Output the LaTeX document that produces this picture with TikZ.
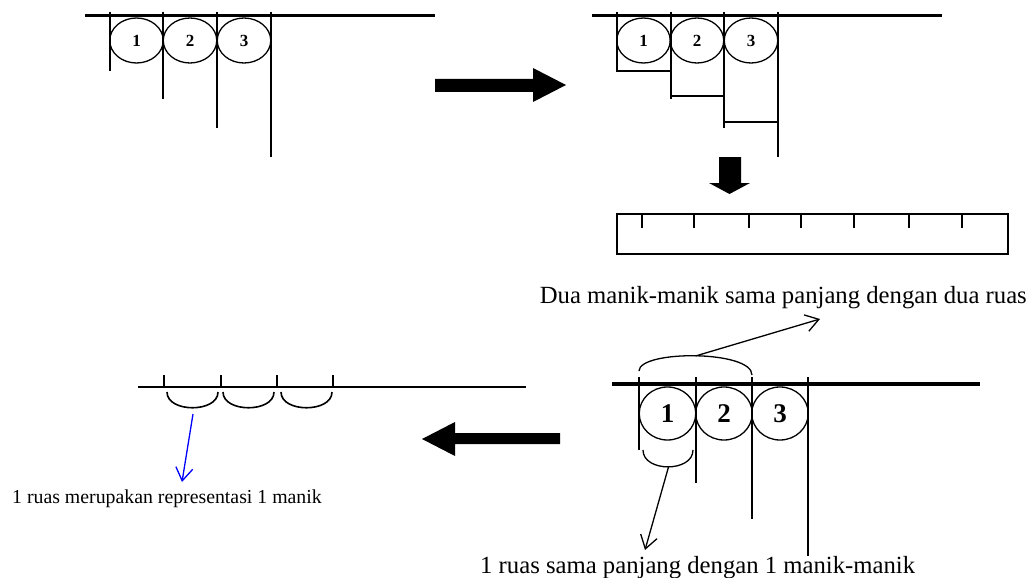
\documentclass[tikz,border=0pt]{standalone}
\usepackage{fontspec}
\setmainfont{Liberation Serif}
\usetikzlibrary{arrows.meta,shapes.geometric}

\begin{document}
\begin{tikzpicture}[x=1pt,y=-1pt,
  bar/.style={line width=3pt},
  rod/.style={line width=1.3pt},
  bead/.style={ellipse,draw,line width=1.3pt,inner sep=0pt,
    minimum width=53.5pt,minimum height=45pt,
    font=\bfseries\fontsize{17}{17}\selectfont},
  bigbead/.style={ellipse,draw,line width=1.3pt,inner sep=0pt,
    minimum width=56.5pt,minimum height=53pt,
    font=\bfseries\fontsize{27}{27}\selectfont},
  lbl/.style={inner sep=0pt,font=\fontsize{24.7}{28}\selectfont},
  bluelbl/.style={inner sep=0pt,font=\fontsize{19.8}{23}\selectfont},
  pointer/.style={line width=1.3pt,-{Straight Barb[length=13pt,width=17pt,line width=1.3pt]}},
  blockarrow/.style={fill=black}
]
\useasboundingbox (0,0) rectangle (1029,578);

% ---------- beads on the string ----------
\draw[bar] (85,16) -- (435,16);
\draw[rod] (110,12) -- (110,71);
\draw[rod] (163,12) -- (163,99);
\draw[rod] (217,12) -- (217,128);
\draw[rod] (271,12) -- (271,157);
\node[bead] (a1) at (136.5,40.5) {\raisebox{-3pt}{1}};
\node[bead] (a2) at (190,40.5) {\raisebox{-3pt}{2}};
\node[bead] (a3) at (244,40.5) {\raisebox{-3pt}{3}};

% ---------- block arrow: right ----------
\fill[blockarrow] (435,79) -- (533,79) -- (533,68) -- (566,85) -- (533,102)
  -- (533,92) -- (435,92) -- cycle;

% ---------- beads with their segments marked ----------
\draw[bar] (592,16) -- (942,16);
\draw[rod] (617,12) -- (617,71) -- (671,71);
\draw[rod] (671,12) -- (671,99);
\draw[rod] (671,96) -- (724,96);
\draw[rod] (724,12) -- (724,128);
\draw[rod] (724,122) -- (778,122);
\draw[rod] (778,12) -- (778,157);
\node[bead] (b1) at (643.5,40.5) {\raisebox{-3pt}{1}};
\node[bead] (b2) at (697,40.5) {\raisebox{-3pt}{2}};
\node[bead] (b3) at (751,40.5) {\raisebox{-3pt}{3}};

% ---------- block arrow: down ----------
\fill[blockarrow] (719,157) -- (741,157) -- (741,183) -- (750,183) -- (729.5,194)
  -- (709,183) -- (719,183) -- cycle;

% ---------- ruler ----------
\draw[line width=1.5pt] (617,214) rectangle (1008,254);
\foreach \t in {642,694,749,801,854,909,962}
  \draw[line width=1.5pt] (\t,214) -- (\t,228);

\node[lbl,anchor=base east] (dua) at (1027,303)
  {Dua manik-manik sama panjang dengan dua ruas};

% ---------- beads compared with segments ----------
\draw[line width=3.5pt] (612,384) -- (980,384);
\draw[rod] (639,377) -- (639,450);
\draw[rod] (696,377) -- (696,483);
\draw[rod] (752,377) -- (752,519);
\draw[rod] (808,377) -- (808,556);
\node[bigbead] (c1) at (667.5,413.5) {1};
\node[bigbead] (c2) at (724,413.5) {2};
\node[bigbead] (c3) at (780,413.5) {3};

% brace over two beads
\draw[rod] (639,371) .. controls (639,350) and (752,350) .. (752,375);
\coordinate (twotop) at (695.5,356);
\coordinate (twotip) at (820,319);
\draw[pointer] (twotop) -- (twotip);

% brace under one bead
\draw[rod] (643,450) .. controls (643,472.5) and (693,472.5) .. (693,450);
\coordinate (onebot) at (668.5,467);
\coordinate (onetip) at (645,550);
\draw[pointer] (onebot) -- (onetip);

\node[lbl,anchor=base west] (satu) at (480,573)
  {1 ruas sama panjang dengan 1 manik-manik};

% ---------- block arrow: left ----------
\fill[blockarrow] (560,433) -- (455,433) -- (455,422) -- (422,439) -- (455,456)
  -- (455,444) -- (560,444) -- cycle;

% ---------- segments on the number line ----------
\draw[line width=1.6pt] (138,387) -- (526,387);
\foreach \t in {164,221,277,333}
  \draw[line width=1.6pt] (\t,375) -- (\t,387);
\foreach \c in {192.5,248.5,306.5}
  \draw[line width=1.6pt] (\c-25.5,392) .. controls (\c-25.5,413) and (\c+25.5,413) .. (\c+25.5,392);

\coordinate (segbot) at (193,414);
\coordinate (segtip) at (182,482);
\draw[pointer,blue] (segbot) -- (segtip);

\node[bluelbl,anchor=base west] (rep) at (12,503)
  {1 ruas merupakan representasi 1 manik};
\end{tikzpicture}
\end{document}
